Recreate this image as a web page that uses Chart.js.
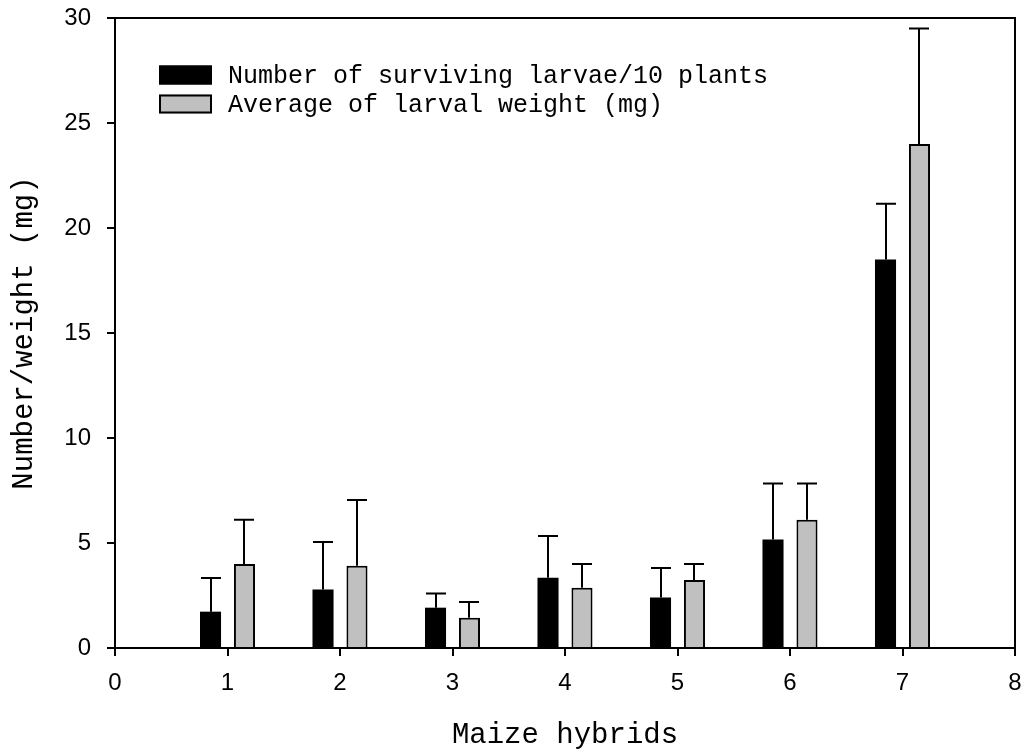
<!DOCTYPE html>
<html>
<head>
<meta charset="utf-8">
<script src="https://cdn.jsdelivr.net/npm/chart.js@4/dist/chart.umd.min.js"></script>
<style>
  html, body { margin: 0; padding: 0; background: #fff; }
  #wrap { width: 1031px; height: 753px; }
</style>
</head>
<body>
<div id="wrap"><canvas id="c" width="1031" height="753"></canvas></div>
<script>
// ---- data ----
const hybrids = [1, 2, 3, 4, 5, 6, 7];
const larvaeNumber = [1.73, 2.78, 1.92, 3.35, 2.40, 5.17, 18.5];
const larvaeNumberErr = [1.60, 2.27, 0.67, 1.98, 1.41, 2.66, 2.66];
const larvalWeight = [4.00, 3.92, 1.44, 2.87, 3.24, 6.11, 24.0];
const larvalWeightErr = [2.11, 3.13, 0.75, 1.13, 0.76, 1.72, 5.5];
const seriesLabels = ['Number of surviving larvae/10 plants', 'Average of larval weight (mg)'];
const xTitle = 'Maize hybrids';
const yTitle = 'Number/weight (mg)';
const xRange = [0, 8];
const yRange = [0, 30];

const monoFont = "'Liberation Mono', 'Courier New', monospace";
const sansFont = "'Liberation Sans', Arial, sans-serif";

const errorBarPlugin = {
  id: 'errorBars',
  afterDatasetsDraw(chart) {
    const ctx = chart.ctx;
    const yScale = chart.scales.y;
    ctx.save();
    ctx.strokeStyle = '#000';
    ctx.lineWidth = 2;
    chart.data.datasets.forEach((ds, di) => {
      const meta = chart.getDatasetMeta(di);
      meta.data.forEach((bar, i) => {
        const v = ds.data[i].y;
        const e = ds.errors[i];
        const yTop = yScale.getPixelForValue(v + e);
        const x = Math.round(bar.x);
        ctx.beginPath();
        ctx.moveTo(x, bar.y);
        ctx.lineTo(x, yTop);
        ctx.moveTo(x - 10, yTop);
        ctx.lineTo(x + 10, yTop);
        ctx.stroke();
      });
    });
    ctx.restore();
  }
};

const framePlugin = {
  id: 'frame',
  afterDraw(chart) {
    const {ctx, chartArea: a} = chart;
    ctx.save();
    ctx.strokeStyle = '#000';
    ctx.lineWidth = 2;
    ctx.beginPath();
    ctx.moveTo(a.left, a.top);
    ctx.lineTo(a.right, a.top);
    ctx.lineTo(a.right, a.bottom);
    ctx.stroke();
    ctx.restore();
  }
};

const legendPlugin = {
  id: 'insideLegend',
  afterDraw(chart) {
    const ctx = chart.ctx;
    ctx.save();
    ctx.font = "25px " + monoFont;
    ctx.textBaseline = 'middle';
    ctx.textAlign = 'left';
    const rows = [75, 104];
    chart.data.datasets.forEach((ds, i) => {
      const cy = rows[i];
      const bx = 159, bw = 53, bh = 19;
      ctx.fillStyle = ds.backgroundColor;
      ctx.fillRect(bx, cy - bh / 2, bw, bh);
      ctx.strokeStyle = '#000';
      ctx.lineWidth = 2;
      ctx.strokeRect(bx + 1, cy - bh / 2 + 1, bw - 2, bh - 2);
      ctx.fillStyle = '#000';
      ctx.fillText(ds.label, 228, cy + 1);
    });
    ctx.restore();
  }
};

const ds1 = hybrids.map((h, i) => ({x: h, y: larvaeNumber[i]}));
const ds2 = hybrids.map((h, i) => ({x: h, y: larvalWeight[i]}));

new Chart(document.getElementById('c'), {
  type: 'bar',
  data: {
    datasets: [
      {
        label: seriesLabels[0],
        data: ds1,
        errors: larvaeNumberErr,
        backgroundColor: '#000000',
        borderColor: '#000000',
        borderWidth: 0,
        categoryPercentage: 0.604,
        barPercentage: 0.62
      },
      {
        label: seriesLabels[1],
        data: ds2,
        errors: larvalWeightErr,
        backgroundColor: '#c0c0c0',
        borderColor: '#000000',
        borderWidth: 2,
        categoryPercentage: 0.604,
        barPercentage: 0.62
      }
    ]
  },
  options: {
    responsive: false,
    animation: false,
    layout: { padding: { top: 18, right: 16, left: 0, bottom: 0 } },
    plugins: {
      legend: { display: false },
      tooltip: { enabled: false }
    },
    scales: {
      x: {
        type: 'linear',
        min: xRange[0],
        max: xRange[1],
        offset: false,
        grid: { display: true, drawOnChartArea: false, drawTicks: true, tickLength: 8, color: '#000', lineWidth: 2, offset: false },
        border: { display: true, color: '#000', width: 2 },
        ticks: { stepSize: 1, color: '#000', font: { family: sansFont, size: 24 }, padding: 13 },
        title: { display: true, text: xTitle, color: '#000', font: { family: monoFont, size: 29 }, padding: { top: 0, bottom: 0 } },
        afterFit(scale) { scale.height = 105; scale.paddingLeft = 0; scale.paddingRight = 0; }
      },
      y: {
        min: yRange[0],
        max: yRange[1],
        grid: { display: true, drawOnChartArea: false, drawTicks: true, tickLength: 8, color: '#000', lineWidth: 2 },
        border: { display: true, color: '#000', width: 2 },
        ticks: { stepSize: 5, color: '#000', font: { family: sansFont, size: 24 }, padding: 16 },
        title: { display: true, text: yTitle, color: '#000', font: { family: monoFont, size: 29 }, padding: { top: 7, bottom: 0 } },
        afterFit(scale) { scale.width = 115; scale.paddingTop = 0; scale.paddingBottom = 0; }
      }
    }
  },
  plugins: [errorBarPlugin, framePlugin, legendPlugin]
});
</script>
</body>
</html>
